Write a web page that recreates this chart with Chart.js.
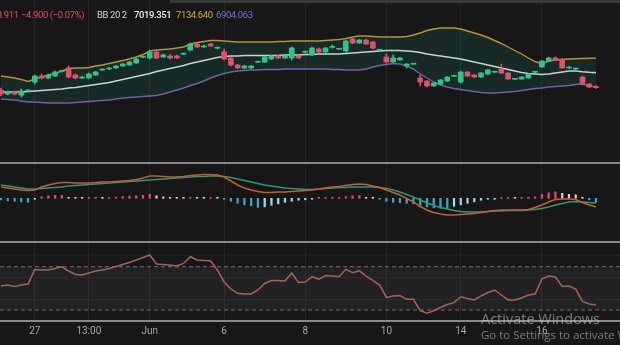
<!DOCTYPE html>
<html><head><meta charset="utf-8">
<script src="https://cdn.jsdelivr.net/npm/chart.js@4.4.1/dist/chart.umd.min.js"></script>
<style>
html,body{margin:0;padding:0;background:#171717;width:620px;height:345px;overflow:hidden;font-family:Roboto,"Open Sans",sans-serif;}
#wrap{position:relative;width:620px;height:345px;overflow:hidden;background:#171717;}
canvas{position:absolute;left:0;}
.sep{position:absolute;left:0;width:620px;height:2px;background:#8a8a8a;}
.lg{position:absolute;top:9px;font-size:9.5px;white-space:nowrap;line-height:12px;letter-spacing:-0.4px;}
.wm{position:absolute;left:481px;color:rgba(205,205,205,0.55);font-family:"Open Sans","Noto Sans",sans-serif;white-space:nowrap;}
</style></head><body>
<div id="wrap">
  <canvas id="cMain" width="620" height="162" style="top:0"></canvas>
  <canvas id="cMacd" width="620" height="77" style="top:164px"></canvas>
  <canvas id="cRsi" width="620" height="102" style="top:243px"></canvas>
  <div style="position:absolute;left:170px;top:0;width:450px;height:3px;background:#3a3a3a;"></div>
  <div class="sep" style="top:162px"></div>
  <div class="sep" style="top:241px"></div>
  <div class="sep" style="top:320px"></div>
  <div class="lg" style="left:-18px;color:#d8505e">6898.911</div>
  <div class="lg" style="left:21px;color:#d8505e">−4.900 (−0.07%)</div>
  <div class="lg" style="left:97px;color:#cfd2d8">BB 20 2</div>
  <div class="lg" style="left:134px;color:#ececec;font-weight:500">7019.351</div>
  <div class="lg" style="left:176px;color:#d6a93a">7134.640</div>
  <div class="lg" style="left:216px;color:#7d6fc4">6904.063</div>
  <div class="wm" style="top:309px;font-size:14.5px">Activate Windows</div>
  <div class="wm" style="top:327px;font-size:11.5px">Go to Settings to activate Windows.</div>
</div>
<script>
// ---- data ----
const open  = [6880,6848,6864,6840,6872,6944,6992,6976,6992,7028, 7056,7000,6976,6976,7000,7040,7048,7056,7072,7080, 7096,7142,7136,7184,7144,7152,7152,7166,7200,7248, 7224,7248,7214,7184,7136,7080,7056,7056,7102,7104, 7128,7152,7136,7136,7152,7182,7160,7208,7184,7220, 7206,7192,7288,7256,7280,7264,7198,7144,7104,7120, 7072,7086,6976,6952,6912,6928,6952,6990,6944,7024, 7000,6984,7008,7022,7048,7016,6966,6968,6976,7022, 7064,7112,7136,7128,7056,7048,6984,6928,6908];
const close = [6848,6864,6848,6872,6876,6992,6976,7000,7024,7032, 6984,6976,6984,7008,7024,7042,7056,7072,7088,7104, 7128,7146,7184,7136,7160,7136,7136,7170,7248,7224, 7232,7232,7218,7128,7080,7056,7072,7072,7106,7144, 7152,7136,7152,7216,7136,7186,7216,7184,7216,7228, 7210,7272,7256,7280,7248,7216,7202,7104,7136,7136, 7088,7090,6944,6912,6936,6960,6984,6994,7024,6992, 6984,7016,7040,7026,7016,6968,6970,6984,7008,7026, 7112,7136,7120,7056,7064,7050,6928,6903.811,6898.911];
const high  = [6896,6872,6872,6888,6884,7000,7008,7008,7032,7040, 7072,7008,6992,7016,7030,7048,7062,7078,7094,7110, 7134,7152,7200,7192,7168,7164,7160,7176,7256,7256, 7240,7254,7224,7208,7140,7086,7078,7076,7112,7150, 7158,7158,7156,7224,7158,7192,7224,7216,7220,7240, 7214,7280,7296,7284,7288,7268,7206,7168,7160,7142, 7092,7094,7000,6956,6940,6964,6988,6998,7032,7030, 7004,7020,7044,7030,7088,7020,6974,6988,7012,7030, 7118,7144,7144,7132,7068,7054,6992,6932,6916];
const low   = [6832,6840,6840,6824,6866,6928,6968,6970,6988,7022, 6976,6968,6970,6972,6996,7034,7044,7052,7068,7076, 7092,7138,7128,7130,7140,7128,7132,7162,7192,7220, 7220,7228,7210,7120,7072,7050,7052,7052,7098,7100, 7124,7130,7132,7120,7132,7178,7156,7180,7180,7214, 7204,7184,7250,7252,7244,7208,7194,7096,7100,7116, 7056,7084,6912,6904,6908,6924,6948,6986,6936,6988, 6980,6980,7004,7018,7012,6964,6962,6964,6972,7018, 7060,7108,7116,7052,7052,7044,6920,6900,6892];

const bbUpper = [6992,6984,6976,6964,6948,6968,6984,7000,7012,7032, 7052,7056,7056,7060,7072,7080,7092,7104,7116,7128, 7144,7164,7192,7200,7204,7208,7216,7224,7248,7260, 7268,7276,7276,7272,7268,7264,7264,7264,7264,7264, 7264,7268,7268,7272,7272,7272,7272,7272,7276,7280, 7284,7292,7304,7312,7312,7308,7304,7304,7304,7304, 7308,7320,7336,7356,7368,7376,7376,7376,7368,7352, 7336,7320,7300,7276,7252,7224,7196,7168,7136,7108, 7088,7112,7120,7124,7128,7130,7132,7134,7134.64];
const bbMiddle = [6864,6864,6864,6864,6868,6872,6876,6880,6884,6888, 6896,6900,6908,6916,6924,6932,6940,6952,6964,6976, 6988,7000,7012,7028,7040,7052,7064,7076,7092,7104, 7116,7128,7140,7148,7152,7152,7156,7156,7156,7156, 7156,7156,7160,7160,7160,7164,7164,7168,7168,7168, 7168,7172,7176,7180,7184,7188,7192,7196,7196,7196, 7192,7188,7180,7168,7160,7152,7144,7136,7128,7116, 7104,7092,7080,7068,7056,7044,7032,7020,7012,7008, 7004,7008,7016,7024,7032,7032,7026,7022,7019.351];
const bbLower = [6808,6804,6800,6792,6784,6784,6780,6776,6776,6776, 6776,6780,6784,6788,6792,6796,6800,6808,6816,6820, 6824,6828,6832,6836,6848,6864,6880,6896,6916,6932, 6952,6976,6996,7012,7024,7032,7036,7040,7040,7044, 7044,7044,7048,7048,7048,7048,7048,7048,7048,7044, 7044,7040,7040,7040,7048,7064,7076,7084,7092,7088, 7072,7048,7008,6976,6944,6920,6904,6892,6884,6876, 6868,6860,6856,6856,6860,6864,6868,6876,6884,6892, 6896,6904,6908,6912,6916,6924,6928,6912,6904.063];

const macdLine = [22.6,20.6,18.6,16.6,15.6,16.6,22.6,26.6,29.6,31.6, 31.6,30.6,30.6,30.6,31.6,32.6,32.6,33.6,34.6,35.6, 37.6,40.6,44.6,44.6,43.6,42.6,42.6,43.6,45.6,46.6, 47.6,47.6,46.6,42.6,34.6,26.6,20.6,16.6,13.6,11.6, 11.6,12.6,12.6,13.6,14.6,15.6,16.6,18.6,20.6,22.6, 23.6,25.6,27.6,28.6,27.6,24.6,21.6,16.6,11.6,6.6, -0.4,-7.4,-16.4,-23.4,-28.4,-31.4,-33.4,-33.4,-32.4,-31.4, -30.4,-28.4,-26.4,-24.4,-23.4,-23.4,-23.4,-23.4,-22.4,-18.4, -13.4,-7.4,-2.4,-1.4,-1.4,-2.4,-8.4,-13.4,-17.4];
const signalLine = [26.6,24.6,22.6,20.6,18.6,18.6,19.6,20.6,21.6,22.6, 24.6,25.6,26.6,27.6,28.6,29.6,30.6,31.6,32.6,33.6, 34.6,35.6,36.6,37.6,38.6,39.6,40.6,41.6,42.6,43.6, 43.6,44.6,44.6,43.6,41.6,38.6,35.6,32.6,29.6,26.6, 24.6,22.6,20.6,19.6,18.6,17.6,17.6,18.6,19.6,20.6, 21.6,21.6,22.6,22.6,22.6,22.6,21.6,19.6,16.6,12.6, 7.6,2.6,-3.4,-9.4,-14.4,-18.4,-21.4,-24.4,-26.4,-27.4, -27.4,-27.4,-26.4,-25.4,-25.4,-24.4,-24.4,-24.4,-23.4,-22.4, -20.4,-17.4,-13.4,-10.4,-7.4,-6.4,-7.4,-8.4,-9.4];
const macdHist = [-3,-5,-6,-7,-8,-2,3,5,6,6, 2,1.4,1,1,1.4,1,1.4,2.4,3.6,4.4, 5,6,8,5,3,2,1.4,1,2,1.6, 1,1,0.6,-1.4,-6,-10,-13,-15,-18,-17, -14,-11,-8,-6,-4,-3,-2,1,1,1.4, 2,3,5,6,2,1,-2,-6,-8,-9, -10,-11,-14,-17,-19,-20,-20,-16,-13,-10, -7,-4,-2,-1,0.8,0.8,0.6,0.6,1,3, 8,11,13,10,8,7,2,-3,-8];

const rsi = [52.2,53.1,51.7,53.1,54.0,67.4,67.0,67.0,68.3,70.0, 66.0,62.8,62.3,64.2,66.0,67.0,68.3,70.2,72.1,73.9, 76.2,78.5,80.8,72.5,72.0,71.6,70.6,73.0,79.2,76.2, 75.7,75.5,66.9,55.9,49.4,45.4,44.8,44.8,48.5,54.5, 57.3,57.3,56.8,64.2,55.4,55.9,60.8,58.4,61.9,61.4, 60.8,67.6,64.5,66.3,61.4,57.3,53.1,41.7,42.9,43.4, 39.9,39.9,29.4,27.0,29.4,32.3,35.1,36.8,42.3,40.6, 39.3,43.0,46.2,48.5,43.9,39.3,39.3,41.1,43.9,44.8, 58.6,61.4,60.5,51.7,52.2,49.4,37.9,35.6,34.6];
const rsiUpperBand = 70, rsiLowerBand = 30;

const tickIndex = [5,13,22,33,45,57,68,80];
const tickLabels = ['27','13:00','Jun','6','8','10','14','16'];

// ---- helpers ----
Chart.defaults.animation = false;
Chart.defaults.font.family = 'Roboto, "Open Sans", sans-serif';
const X_MIN = -0.148, X_MAX = 91.55;
const GREEN = '#2ec48a', RED = '#e2506a';
const pts = arr => arr.map((v, i) => ({x: i, y: v}));
const isUp = i => close[i] >= open[i];
const noPlug = {legend: {display: false}, tooltip: {enabled: false}};
function xAxis(showLabels) {
  return {
    type: 'linear', min: X_MIN, max: X_MAX, display: true, offset: false,
    grid: {color: '#242424', drawTicks: false, lineWidth: 1, offset: false},
    border: {display: false},
    ticks: {display: showLabels, autoSkip: false, maxRotation: 0, padding: 5,
      color: '#a8a8a8', font: {size: 10},
      callback: (v, i) => tickLabels[i]},
    afterBuildTicks(s) { s.ticks = tickIndex.map(v => ({value: v})); },
    afterFit(s) { if (showLabels) s.height = 25; }
  };
}
function yAxis(min, max, gridVals, gridColor) {
  return {
    min, max, display: true, beginAtZero: false,
    grid: {color: gridColor || '#1d1d1d', drawTicks: false},
    border: {display: false},
    ticks: {display: false},
    afterBuildTicks(s) { s.ticks = (gridVals || []).map(v => ({value: v})); }
  };
}

// ---- main price panel ----
new Chart(document.getElementById('cMain'), {
  data: {datasets: [
    {type: 'line', data: pts(bbUpper), borderColor: '#b8952f', borderWidth: 1.4, pointRadius: 0, order: 4},
    {type: 'line', data: pts(bbMiddle), borderColor: '#c9d3d6', borderWidth: 1.6, pointRadius: 0, order: 3},
    {type: 'line', data: pts(bbLower), borderColor: '#6b64a8', borderWidth: 1.4, pointRadius: 0, order: 5,
      fill: {target: 0}, backgroundColor: 'rgba(32,140,130,0.16)'},
    {type: 'bar', data: open.map((o, i) => ({x: i, y: [low[i], high[i]]})), barThickness: 1, grouped: false,
      backgroundColor: c => isUp(c.dataIndex) ? GREEN : RED, order: 1},
    {type: 'bar', data: open.map((o, i) => ({x: i, y: [o, close[i]]})), barThickness: 5, grouped: false, minBarLength: 1,
      backgroundColor: c => isUp(c.dataIndex) ? GREEN : RED, order: 0}
  ]},
  options: {responsive: false, animation: false, layout: {padding: 0, autoPadding: false}, plugins: noPlug,
    scales: {x: xAxis(false), y: yAxis(6304, 7600, [])}}
});

// ---- MACD panel ----
function histColor(c) {
  const i = c.dataIndex, v = macdHist[i], p = i > 0 ? macdHist[i - 1] : v;
  if (v >= 0) return v >= p ? '#e0487a' : '#eec3cf';
  return v <= p ? '#35a8d2' : '#9fd8ec';
}
new Chart(document.getElementById('cMacd'), {
  data: {datasets: [
    {type: 'line', data: pts(macdLine), borderColor: '#cf5a2c', borderWidth: 1.5, pointRadius: 0, order: 1},
    {type: 'line', data: pts(signalLine), borderColor: '#1f9e7a', borderWidth: 1.5, pointRadius: 0, order: 2},
    {type: 'bar', data: pts(macdHist), barThickness: 1.6, grouped: false, minBarLength: 1,
      backgroundColor: histColor, order: 3}
  ]},
  options: {responsive: false, animation: false, layout: {padding: 0, autoPadding: false}, plugins: noPlug,
    scales: {x: xAxis(false), y: yAxis(-85.4, 68.6, [])}}
});

// ---- RSI panel ----
new Chart(document.getElementById('cRsi'), {
  data: {datasets: [
    {type: 'line', data: [{x: X_MIN, y: rsiUpperBand}, {x: X_MAX, y: rsiUpperBand}], borderColor: '#707070',
      borderWidth: 1, borderDash: [4, 3], pointRadius: 0, order: 3},
    {type: 'line', data: [{x: X_MIN, y: rsiLowerBand}, {x: X_MAX, y: rsiLowerBand}], borderColor: '#707070',
      borderWidth: 1, borderDash: [4, 3], pointRadius: 0, order: 2,
      fill: '-1', backgroundColor: 'rgba(150,150,175,0.09)'},
    {type: 'line', data: pts(rsi), borderColor: '#a8625a', borderWidth: 1.5, pointRadius: 0, order: 1}
  ]},
  options: {responsive: false, animation: false, layout: {padding: 0, autoPadding: false}, plugins: noPlug,
    scales: {x: xAxis(true), y: yAxis(20.8, 91.9, [40, 60, 80], '#202020')}}
});
</script>
</body></html>
